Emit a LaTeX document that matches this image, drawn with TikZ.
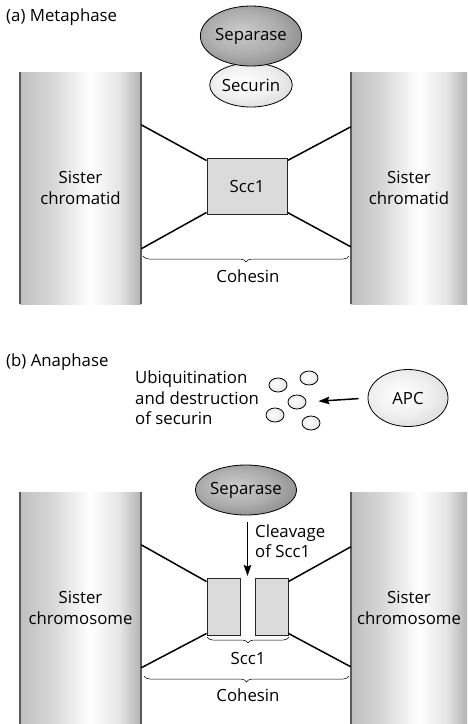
\documentclass[tikz,border=0pt]{standalone}
\usepackage{fontspec}
\setmainfont{Open Sans}
\usetikzlibrary{arrows.meta,decorations.pathreplacing,calc,shapes.geometric}
\pgfdeclarehorizontalshading{colshade}{100bp}{color(0bp)=(black!25); color(25bp)=(black!25); color(38bp)=(black!16); color(54bp)=(white); color(66bp)=(black!10); color(75bp)=(black!30); color(100bp)=(black!30)}
\pgfdeclareradialshading{sepshade}{\pgfpoint{-6bp}{4bp}}{color(0bp)=(black!20); color(18bp)=(black!32); color(40bp)=(black!55); color(56bp)=(black!68)}
\pgfdeclareradialshading{lightshade}{\pgfpoint{-6bp}{4bp}}{color(0bp)=(white); color(18bp)=(black!6); color(40bp)=(black!20); color(56bp)=(black!32)}
\begin{document}
\begin{tikzpicture}[x=1pt,y=-1pt,
  every node/.style={font=\fontsize{16.8}{20.5}\selectfont},
  column/.style={rectangle, minimum height=232pt, shading=colshade, inner sep=0pt, align=center},
  edge/.style={draw=black!65, line width=1.6pt},
  link/.style={line width=1.5pt, black},
  sccbox/.style={rectangle, draw=black!85, line width=0.9pt, fill=black!14, inner sep=0pt},
  sepa/.style={ellipse, draw, line width=0.8pt, inner sep=0pt, shading=sepshade},
  light/.style={ellipse, draw, line width=0.8pt, inner sep=0pt, shading=lightshade},
  blob/.style={ellipse, draw, line width=0.8pt, inner sep=0pt, minimum width=18pt, minimum height=14pt, shading=lightshade},
  bracepath/.style={decorate, decoration={brace, mirror, amplitude=6pt}, line width=0.5pt},
  arr/.style={line width=1.5pt, -{Stealth[length=11pt,width=7.5pt,inset=1.5pt]}},
  lbl/.style={align=left, inner sep=0pt}
]
\useasboundingbox (0,0) rectangle (467,724);

% ---------------- (a) Metaphase ----------------
\node[lbl, anchor=west] (ta) at (6,17) {(a) Metaphase};

\node[column, minimum width=121pt] (lc) at (80.5,188) {Sister\\chromatid};
\node[column, minimum width=116pt] (rc) at (409,188) {Sister\\chromatid};
\draw[edge] (lc.north west) -- (lc.south west);
\draw[edge] (lc.north east) -- (lc.south east);
\draw[edge] (rc.north west) -- (rc.south west);

\node[light, minimum width=68pt, minimum height=44pt] (sec) at (251,85) {Securin};
\node[sepa, minimum width=97pt, minimum height=60pt] (sep) at (251,36) {Separase};

\node[sccbox, minimum width=80pt, minimum height=56pt] (scc) at (247,186) {Scc1};

\coordinate (la1) at ($(lc.north east)+(0,53)$);
\coordinate (la2) at ($(lc.north east)+(0,177)$);
\coordinate (ra1) at ($(rc.north west)+(0,55)$);
\coordinate (ra2) at ($(rc.north west)+(0,175)$);
\draw[link] (la1) -- ($(scc.north west)+(0,3)$);
\draw[link] (la2) -- ($(scc.south west)+(0,-2)$);
\draw[link] (ra1) -- ($(scc.north east)+(0,3)$);
\draw[link] (ra2) -- ($(scc.south east)+(0,-2)$);

\coordinate (ba1) at (143,256);
\coordinate (ba2) at (349,256);
\draw[bracepath] (ba1) -- (ba2);
\node (coa) at (248,276) {Cohesin};

% ---------------- (b) Anaphase ----------------
\node[lbl, anchor=west] (tb) at (6,362) {(b) Anaphase};
\node[lbl, anchor=west] (ubq) at (135,398) {Ubiquitination\\and destruction\\of securin};

\node[blob] (c1) at (278,385) {};
\node[blob] (c2) at (309,378) {};
\node[blob] (c3) at (297,402) {};
\node[blob] (c4) at (275,415) {};
\node[blob] (c5) at (311,423) {};

\node[light, minimum width=80pt, minimum height=57pt] (apc) at (408,398) {APC};
\draw[arr, shorten <=9pt, shorten >=12pt] (apc.west) -- (c3.east);

\node[column, minimum width=121pt] (lc2) at (80.5,608) {Sister\\chromosome};
\node[column, minimum width=116pt] (rc2) at (409,608) {Sister\\chromosome};
\draw[edge] (lc2.north west) -- (lc2.south west);
\draw[edge] (lc2.north east) -- (lc2.south east);
\draw[edge] (rc2.north west) -- (rc2.south west);

\node[sepa, minimum width=97pt, minimum height=50pt] (sep2) at (246,490) {Separase};

\node[sccbox, minimum width=33pt, minimum height=57pt] (sl) at (223.5,606.5) {};
\node[sccbox, minimum width=33pt, minimum height=57pt] (sr) at (271.5,606.5) {};

\coordinate (cut) at (247.5,576);
\draw[arr, shorten <=7pt] (sep2.south -| cut) -- (cut);
\node[lbl, anchor=west] (clv) at (255,541) {Cleavage\\of Scc1};

\coordinate (lb1) at ($(lc2.north east)+(0,53)$);
\coordinate (lb2) at ($(lc2.north east)+(0,176)$);
\coordinate (rb1) at ($(rc2.north west)+(0,55)$);
\coordinate (rb2) at ($(rc2.north west)+(0,175)$);
\draw[link] (lb1) -- ($(sl.north west)+(0,4)$);
\draw[link] (lb2) -- ($(sl.south west)+(0,-2)$);
\draw[link] (rb1) -- ($(sr.north east)+(0,4)$);
\draw[link] (rb2) -- ($(sr.south east)+(0,-2)$);

\coordinate (bs1) at (207,637);
\coordinate (bs2) at (289,637);
\draw[bracepath] (bs1) -- (bs2);
\node (sccl) at (248,658) {Scc1};

\coordinate (bc1) at (144,676);
\coordinate (bc2) at (349,676);
\draw[bracepath] (bc1) -- (bc2);
\node (cob) at (248,695) {Cohesin};
\end{tikzpicture}
\end{document}
